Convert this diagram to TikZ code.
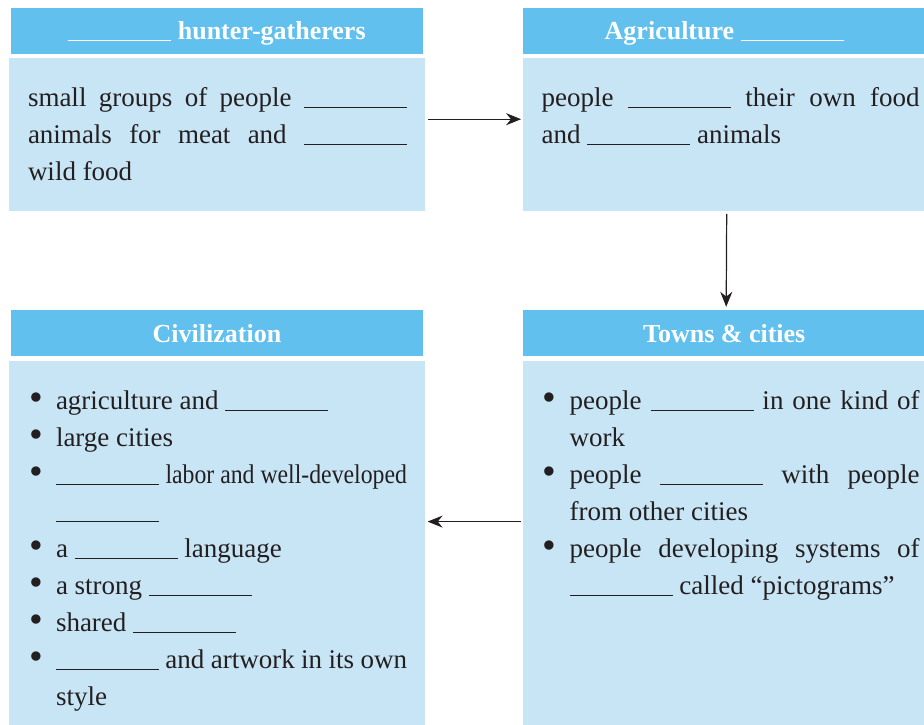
\documentclass[tikz,border=0pt]{standalone}
\usepackage{fontspec}
\usepackage{graphicx}
\setmainfont{Liberation Serif}
\usetikzlibrary{arrows.meta,positioning}

\definecolor{headblue}{RGB}{98,192,238}
\definecolor{bodyblue}{RGB}{200,229,246}
\definecolor{inkgray}{RGB}{35,31,32}

\newcommand{\blank}{\rule[-1.5pt]{103pt}{1pt}}
\newcommand{\itm}[1]{\hangindent=28pt\hangafter=1\noindent\makebox[28pt][l]{\hspace{1pt}\raisebox{-1pt}{\scalebox{1.45}{\textbullet}}}#1\par}

\begin{document}
\begin{tikzpicture}[x=1pt, y=-1pt, >={Stealth[length=15pt,width=12pt]}, line width=1.2pt]
\tikzstyle{head}=[rectangle,fill=headblue,minimum width=412pt,minimum height=46pt,inner sep=0pt,text height=18pt,text depth=0pt,text=white,font=\fontsize{26}{30}\selectfont\bfseries]
\tikzstyle{box}=[rectangle,fill=bodyblue,minimum width=416pt,inner sep=0pt]
\tikzstyle{txt}=[anchor=base west,inner sep=0pt,text width=379pt,align=justify,text=inkgray,font=\fontsize{27}{37}\selectfont]
\useasboundingbox (0,0) rectangle (924,725);

% headers and boxes
\node[head]                       (1t) at (217,31) {\blank\ hunter-gatherers};
\node[box,minimum height=153pt]   (1)  [below=3pt of 1t] {};
\node[head,minimum width=402pt]   (2t) [right=99pt of 1t] {Agriculture \blank};
\node[box,minimum width=403pt,minimum height=153pt] (2) [below=3pt of 2t] {};
\node[head,minimum width=402pt]   (3t) [below=98pt of 2] {Towns \& cities};
\node[box,minimum width=403pt,minimum height=368pt] (3) [below=3pt of 3t] {};
\node[head]                       (4t) [left=99pt of 3t] {Civilization};
\node[box,minimum height=368pt]   (4)  [below=3pt of 4t] {};

% texts
\node[txt] (1x) at ([xshift=19pt,yshift=-49pt]1.north west)
  {small groups of people \blank\linebreak animals for meat and \blank\linebreak wild food};
\node[txt,text width=378pt] (2x) at ([xshift=19pt,yshift=-49pt]2.north west)
  {people \blank\ their own food\linebreak and \blank\ animals};
\node[txt,text width=378pt] (3x) at ([xshift=19pt,yshift=-49pt]3.north west)
  {\itm{people \blank\ in one kind of\linebreak work}
   \itm{people \blank\ with people\linebreak from other cities}
   \itm{people developing systems of\linebreak \blank\ called “pictograms”}};
\node[txt] (4x) at ([xshift=19pt,yshift=-49pt]4.north west)
  {\itm{agriculture and \blank}
   \itm{large cities}
   \itm{\blank\ \scalebox{0.88}[1]{labor and well-developed}\linebreak \blank}
   \itm{a \blank\ language}
   \itm{a strong \blank}
   \itm{shared \blank}
   \itm{\blank\ and artwork in its own\linebreak style}};

% arrows
\draw[->,inkgray] ([xshift=2pt,yshift=15.5pt]1.east) -- ([xshift=-1pt,yshift=15.5pt]2.west);
\draw[->,inkgray] ([xshift=2.5pt,yshift=-2pt]2.south) -- ([xshift=2pt,yshift=3pt]3t.north);
\draw[->,inkgray] ([xshift=-1pt,yshift=23pt]3.west) -- ([xshift=2pt,yshift=23pt]4.east);
\end{tikzpicture}
\end{document}
